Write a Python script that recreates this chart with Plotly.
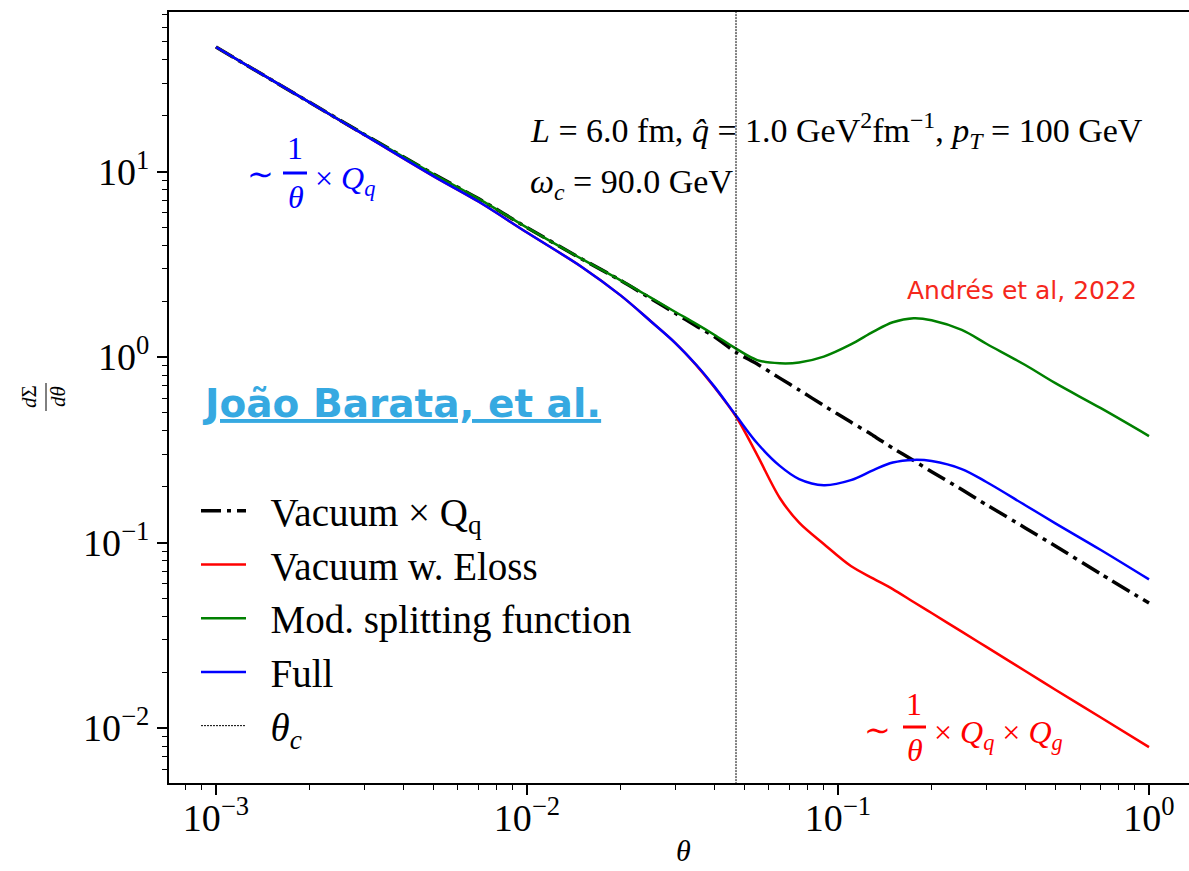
import plotly.graph_objects as go

# ---------------- data ----------------
theta = [0.001, 0.002, 0.003, 0.005, 0.007, 0.01, 0.015, 0.02, 0.025, 0.03,
         0.035, 0.04, 0.047, 0.055, 0.065, 0.075, 0.09, 0.11, 0.13, 0.15,
         0.175, 0.2, 0.25, 0.3, 0.4, 0.5, 0.7, 1.0]

vacuum_qq = [46.9, 23.6, 15.85, 9.7, 7.13, 4.99, 3.38, 2.59, 2.07, 1.72,
             1.47, 1.29, 1.06, 0.917, 0.770, 0.664, 0.548, 0.446, 0.377, 0.323,
             0.277, 0.241, 0.193, 0.160, 0.120, 0.0958, 0.0677, 0.0472]

vacuum_eloss = [46.9, 23.6, 15.75, 9.45, 6.87, 4.69, 3.06, 2.15, 1.56, 1.19,
                0.905, 0.69, 0.478, 0.296, 0.174, 0.128, 0.0982, 0.0747, 0.0639, 0.0561,
                0.0478, 0.0417, 0.0331, 0.0274, 0.0203, 0.0161, 0.0114, 0.0079]

mod_splitting = [46.9, 23.6, 15.85, 9.7, 7.13, 4.99, 3.38, 2.59, 2.09, 1.75,
                 1.51, 1.32, 1.11, 0.963, 0.926, 0.935, 1.006, 1.17, 1.37, 1.54,
                 1.62, 1.58, 1.40, 1.18, 0.906, 0.723, 0.530, 0.375]

full = [46.9, 23.6, 15.75, 9.45, 6.87, 4.69, 3.06, 2.15, 1.56, 1.19,
        0.909, 0.695, 0.484, 0.343, 0.259, 0.220, 0.204, 0.217, 0.246, 0.270,
        0.279, 0.275, 0.249, 0.212, 0.159, 0.127, 0.0912, 0.0633]

theta_c = 0.047

x_tick_vals = [1e-3, 1e-2, 1e-1, 1e0]
x_tick_text = ["10<sup>−3</sup>", "10<sup>−2</sup>", "10<sup>−1</sup>", "10<sup>0</sup>"]
y_tick_vals = [1e-2, 1e-1, 1e0, 1e1]
y_tick_text = ["10<sup>−2</sup>", "10<sup>−1</sup>", "10<sup>0</sup>", "10<sup>1</sup>"]

x_minor = [m * 10.0 ** e for e in range(-4, 1) for m in range(2, 10)]
y_minor = [m * 10.0 ** e for e in range(-3, 2) for m in range(2, 10)]

# ---------------- layout helpers ----------------
W, H = 1189, 871
ML, MT, MB = 169, 12, 88
PW, PH = W - ML, H - MT - MB


def px(x):
    return (x - ML) / PW


def py(y):
    return (H - MB - y) / PH


SERIF = "Liberation Serif"
GAP = "\u2002"

fig = go.Figure()

fig.add_trace(go.Scatter(
    x=theta, y=vacuum_qq, mode="lines", name=GAP + "Vacuum × Q<sub>q</sub>",
    legendgroup="a",
    line=dict(color="black", width=3.5, dash="20px,6px,4px,6px", shape="spline", smoothing=0.6)))
fig.add_trace(go.Scatter(
    x=theta, y=vacuum_eloss, mode="lines", name=GAP + "Vacuum w. Eloss",
    legendgroup="b",
    line=dict(color="#ff0000", width=2.5, shape="spline", smoothing=0.9)))
fig.add_trace(go.Scatter(
    x=theta, y=mod_splitting, mode="lines", name=GAP + "Mod. splitting function",
    legendgroup="c",
    line=dict(color="#008000", width=2.5, shape="spline", smoothing=1.0)))
fig.add_trace(go.Scatter(
    x=theta, y=full, mode="lines", name=GAP + "Full",
    legendgroup="d",
    line=dict(color="#0000ff", width=2.5, shape="spline", smoothing=1.0)))
fig.add_trace(go.Scatter(
    x=[theta_c, theta_c], y=[1e-4, 1e3], mode="lines", name=GAP + "<i>θ<sub>c</sub></i>",
    legendgroup="e",
    line=dict(color="black", width=1, dash="2px,1px")))

annotations = []


def txt(text, x, y, size, color="black", family=SERIF, xanchor="center",
        yanchor="middle", angle=0):
    annotations.append(dict(text=text, x=px(x), y=py(y), xref="paper", yref="paper",
                            showarrow=False, xanchor=xanchor, yanchor=yanchor,
                            textangle=angle,
                            font=dict(family=family, size=size, color=color)))


# parameter text
txt("<i>L</i> = 6.0 fm, <i>q̂</i> = 1.0 GeV<sup>2</sup>fm<sup>−1</sup>, "
    "<i>p<sub>T</sub></i> = 100 GeV", 528, 130, 34, xanchor="left")
txt("<i>ω<sub>c</sub></i> = 90.0 GeV", 528, 184, 34, xanchor="left")

# blue scaling formula
txt("∼", 260, 174, 32, color="#0000ff")
txt("1", 295, 148, 32, color="#0000ff")
txt("<i>θ</i>", 296, 197, 32, color="#0000ff")
txt("× <i>Q<sub>q</sub></i>", 313, 180, 32, color="#0000ff", xanchor="left")

# red scaling formula
txt("∼", 877, 730, 32, color="#ff0000")
txt("1", 914, 704, 32, color="#ff0000")
txt("<i>θ</i>", 915, 750, 32, color="#ff0000")
txt("× <i>Q<sub>q</sub></i> × <i>Q<sub>g</sub></i>", 932, 734, 32, color="#ff0000",
    xanchor="left")

# credits
txt("Andrés et al, 2022", 1022, 290, 25, color="#f5281c", family="DejaVu Sans")
txt("<u><b>João Barata, et al.</b></u>", 200, 403, 39, color="#36a9e1",
    family="DejaVu Sans", xanchor="left")

# axis titles
txt("<i>θ</i>", 683, 851, 30)
txt("<i>d</i>Σ", 29, 397, 21, angle=-90)
txt("<i>dθ</i>", 58, 397, 21, angle=-90)

shapes = [
    dict(type="line", xref="paper", yref="paper", x0=px(283), x1=px(307), y0=py(173),
         y1=py(173), line=dict(color="#0000ff", width=3)),
    dict(type="line", xref="paper", yref="paper", x0=px(903), x1=px(926), y0=py(727),
         y1=py(727), line=dict(color="#ff0000", width=3)),
    dict(type="line", xref="paper", yref="paper", x0=px(46), x1=px(46), y0=py(383),
         y1=py(411), line=dict(color="black", width=1)),
]

fig.update_layout(
    width=W, height=H,
    margin=dict(l=ML, r=0, t=MT, b=MB, pad=0),
    paper_bgcolor="white", plot_bgcolor="white",
    showlegend=True,
    legend=dict(x=px(196), y=py(479), xanchor="left", yanchor="top",
                bgcolor="rgba(0,0,0,0)", traceorder="grouped", tracegroupgap=0,
                itemwidth=45,
                font=dict(family=SERIF, size=39, color="black")),
    annotations=annotations,
    shapes=shapes,
)

fig.update_xaxes(
    type="log", range=[-3.151, 0.1286],
    tickmode="array", tickvals=x_tick_vals, ticktext=x_tick_text,
    ticks="outside", ticklen=10, tickwidth=2, tickcolor="black",
    ticklabelstandoff=-10,
    tickfont=dict(family=SERIF, size=38, color="black"),
    minor=dict(tickmode="array", tickvals=x_minor, ticks="outside", ticklen=5,
               tickwidth=1.2, tickcolor="black", showgrid=False),
    showline=True, linewidth=2, linecolor="black", mirror=True,
    showgrid=False, zeroline=False,
)
fig.update_yaxes(
    type="log", range=[-2.296, 1.860],
    tickmode="array", tickvals=y_tick_vals, ticktext=y_tick_text,
    ticks="outside", ticklen=10, tickwidth=2, tickcolor="black",
    tickfont=dict(family=SERIF, size=38, color="black"),
    minor=dict(tickmode="array", tickvals=y_minor, ticks="outside", ticklen=5,
               tickwidth=1.2, tickcolor="black", showgrid=False),
    showline=True, linewidth=2, linecolor="black", mirror=False,
    showgrid=False, zeroline=False,
)

fig.write_html("out.html")
